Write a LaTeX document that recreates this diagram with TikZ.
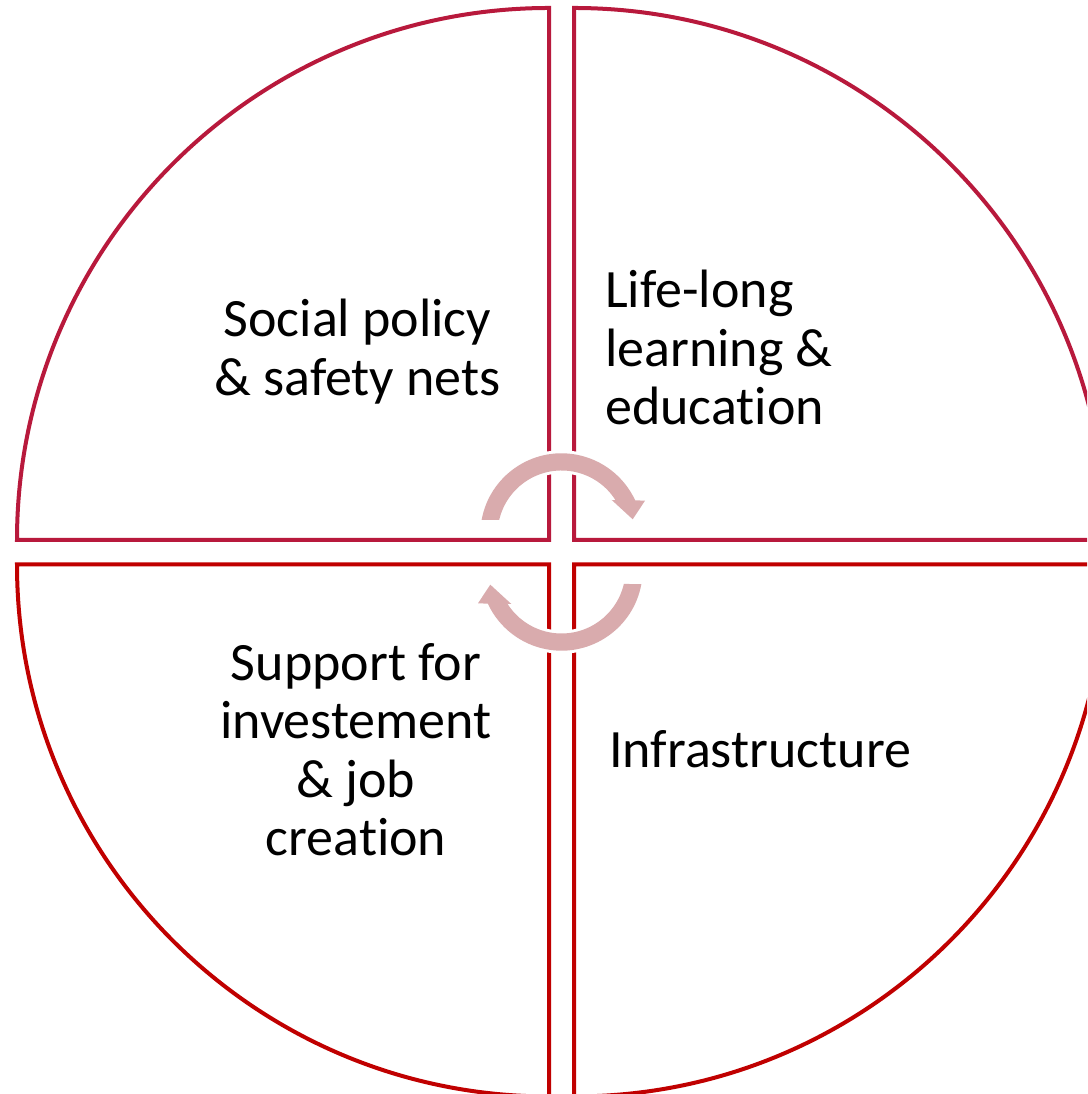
\documentclass[tikz,border=0pt]{standalone}
\usepackage{fontspec}
\setmainfont{Carlito}[Ligatures={NoCommon}]
\definecolor{topred}{HTML}{B8193C}
\definecolor{botred}{HTML}{C00000}
\definecolor{arrowpink}{HTML}{D9ABAD}

\begin{document}
\begin{tikzpicture}[
    x=1pt, y=1pt,
    % --- Styles ---
    quadtop/.style={
        draw=topred, line width=4pt, fill=white
    },
    quadbot/.style={
        draw=botred, line width=4pt, fill=white
    },
    cyclearrow/.style={
        fill=arrowpink, preaction={draw=white, line width=6pt, line join=round}
    },
    quadtext/.style={
        inner sep=0pt, font=\fontsize{54}{58.5}\selectfont
    }
    ]

    % --- Frame ---
    \useasboundingbox (0,0) rectangle (1087,1094);
    \clip (0,0) rectangle (1087,1094);

    % --- 1. Four quarters of the circle ---
    \coordinate (tl) at (549,554);
    \coordinate (tr) at (574,554);
    \coordinate (bl) at (549,529.5);
    \coordinate (br) at (574,529.5);

    \draw[quadtop] (tl) -- ++(0,532) arc[start angle=90, end angle=180, radius=532] -- cycle;
    \draw[quadtop] (tr) -- ++(0,532) arc[start angle=90, end angle=0, radius=532] -- cycle;
    \draw[quadbot] (bl) -- ++(-532,0) arc[start angle=180, end angle=270, radius=532] -- cycle;
    \draw[quadbot] (br) -- ++(532,0) arc[start angle=0, end angle=-90, radius=532] -- cycle;

    % --- 2. Labels ---
    % base anchor sits on the last line of each label
    \node[quadtext, align=center, anchor=base] (social) at (357.5,698.8) {Social policy\\\& safety nets};
    \node[quadtext, align=left, anchor=base west] (lifelong) at (605,669) {Life-long\\learning \&\\education};
    \node[quadtext, align=center, anchor=base] (support) at (356,238) {Support for\\investement\\\& job\\creation};
    \node[quadtext, anchor=base west] (infra) at (609,326.7) {Infrastructure};

    % --- 3. Circular arrows in the middle ---
    % top one turns clockwise, bottom one is the same shape turned half round
    \newcommand{\cyclepath}{%
        \path[cyclearrow] (169.7:81.2) arc[start angle=169.7, end angle=24.9, radius=81.2]
            -- (83.5,33.8) -- (71.2,15.2) -- (50.2,34.5)
            -- (32.3:64) arc[start angle=32.3, end angle=166.9, radius=64] -- cycle;}

    \begin{scope}[shift={(561.5,559.5)}]
        \cyclepath
    \end{scope}
    \begin{scope}[shift={(561.5,524.5)}, rotate=180]
        \cyclepath
    \end{scope}

\end{tikzpicture}
\end{document}
